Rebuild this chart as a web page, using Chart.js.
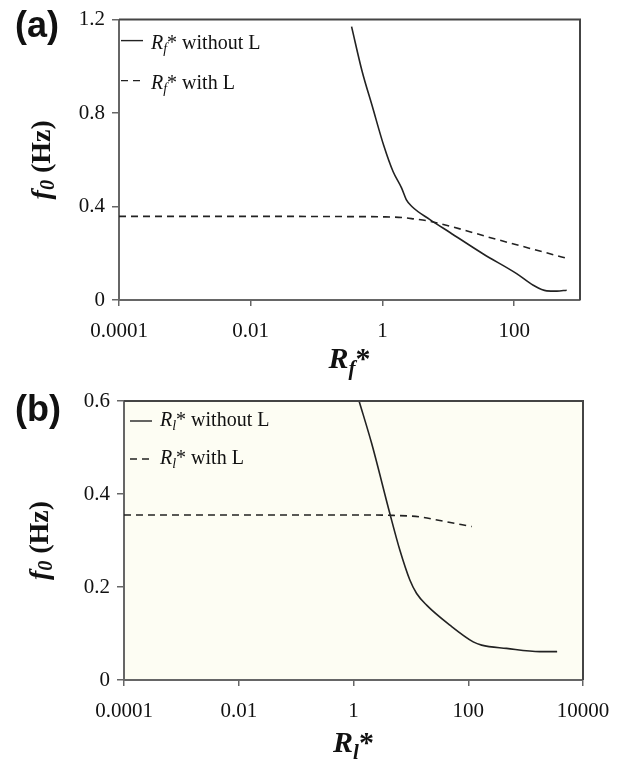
<!DOCTYPE html>
<html>
<head>
<meta charset="utf-8">
<script src="https://cdn.jsdelivr.net/npm/chart.js@4.4.1/dist/chart.umd.min.js"></script>
<style>
  body { margin: 0; background: #fff; }
  #wrap { position: relative; width: 626px; height: 762px; }
  canvas { position: absolute; left: 0; }
  #chartA { top: 0; }
  #chartB { top: 380px; }
</style>
</head>
<body>
<div id="wrap">
  <canvas id="chartA" width="626" height="380"></canvas>
  <canvas id="chartB" width="626" height="382"></canvas>
</div>
<script>
// (a) f0 against Rf*
const rfTicks = [0.0001, 0.01, 1, 100];
const rfNoLX = [0.34, 0.49, 0.70, 1.05, 1.45, 1.95, 2.3, 2.8, 5.2, 10.6, 34, 109, 195, 312, 446, 628];
const rfNoLY = [1.17, 0.98, 0.83, 0.66, 0.55, 0.48, 0.43, 0.40, 0.345, 0.289, 0.197, 0.113, 0.063, 0.039, 0.038, 0.042];
const rfLX = [0.0001, 0.01, 0.3, 1, 2, 3, 5, 55, 600];
const rfLY = [0.358, 0.358, 0.357, 0.356, 0.353, 0.347, 0.338, 0.259, 0.18];

// (b) f0 against Rl*
const rlTicks = [0.0001, 0.01, 1, 100, 10000];
const rlNoLX = [1.25, 2.07, 4.3, 6.4, 9.6, 12.6, 18.8, 47.8, 122, 171, 465, 1770, 3540];
const rlNoLY = [0.6, 0.509, 0.358, 0.28, 0.215, 0.186, 0.161, 0.118, 0.082, 0.075, 0.068, 0.061, 0.061];
const rlLX = [0.0001, 0.01, 1, 5, 14, 32, 115];
const rlLY = [0.355, 0.355, 0.355, 0.354, 0.351, 0.343, 0.330];

const seriesNames = ['without L', 'with L'];
const serif = "'Liberation Serif', 'Times New Roman', serif";
const ink = '#111';

function series(xs, ys, name, dash) {
  return {
    label: name,
    data: xs.map((x, i) => ({ x: x, y: ys[i] })),
    borderColor: '#222',
    borderWidth: 1.6,
    borderDash: dash,
    pointRadius: 0,
    cubicInterpolationMode: 'monotone',
    fill: false
  };
}

// draws a run of differently styled pieces; align 'center' or 'left'
function drawParts(ctx, parts, x, y, align) {
  let w = 0;
  parts.forEach(p => { ctx.font = p.font; w += ctx.measureText(p.text).width; });
  let cx = align === 'center' ? x - w / 2 : x;
  parts.forEach(p => {
    ctx.font = p.font;
    ctx.fillText(p.text, cx, y + (p.dy || 0));
    cx += ctx.measureText(p.text).width;
  });
}

const figureText = {
  id: 'figureText',
  beforeDraw(chart, args, o) {
    const a = chart.chartArea, ctx = chart.ctx;
    if (o.plotBg) {
      ctx.save();
      ctx.fillStyle = o.plotBg;
      ctx.fillRect(a.left, a.top, a.right - a.left, a.bottom - a.top);
      ctx.restore();
    }
  },
  afterDraw(chart, args, o) {
    const a = chart.chartArea, ctx = chart.ctx;
    ctx.save();
    // top and right frame
    ctx.strokeStyle = '#444';
    ctx.lineWidth = 2;
    ctx.beginPath();
    ctx.moveTo(a.left, a.top);
    ctx.lineTo(a.right, a.top);
    ctx.lineTo(a.right, a.bottom);
    ctx.stroke();

    ctx.fillStyle = ink;
    ctx.textBaseline = 'alphabetic';

    // panel letter
    ctx.font = "bold 36px 'Liberation Sans', Arial, sans-serif";
    ctx.fillText(o.panel, 15, o.panelY);

    // x axis title
    drawParts(ctx, [
      { text: 'R', font: 'italic bold 30px ' + serif },
      { text: o.sub, font: 'italic bold 21px ' + serif, dy: 7 },
      { text: '*', font: 'bold 30px ' + serif }
    ], (a.left + a.right) / 2, a.bottom + o.xTitleGap, 'center');

    // y axis title, rotated
    ctx.save();
    ctx.translate(o.yTitleX, (a.top + a.bottom) / 2);
    ctx.rotate(-Math.PI / 2);
    ctx.textBaseline = 'middle';
    drawParts(ctx, [
      { text: 'f', font: 'italic bold 28px ' + serif },
      { text: '0', font: 'italic bold 20px ' + serif, dy: 6 },
      { text: ' (Hz)', font: 'bold 28px ' + serif }
    ], 0, 0, 'center');
    ctx.restore();

    // legend
    chart.data.datasets.forEach((ds, i) => {
      const sy = a.top + o.legendTop + i * o.legendGap;
      const sx = a.left + o.sampleLeft;
      ctx.save();
      ctx.strokeStyle = ds.borderColor;
      ctx.lineWidth = 1.4;
      ctx.setLineDash(ds.borderDash || []);
      ctx.beginPath();
      ctx.moveTo(sx, sy);
      ctx.lineTo(sx + 22, sy);
      ctx.stroke();
      ctx.restore();
      drawParts(ctx, [
        { text: 'R', font: 'italic 20px ' + serif },
        { text: o.sub, font: 'italic 14px ' + serif, dy: 4 },
        { text: '* ' + seriesNames[i], font: '20px ' + serif }
      ], sx + 30, sy + o.legendText, 'left');
    });
    ctx.restore();
  }
};

function makeChart(id, cfg) {
  const tickFont = { family: serif, size: 21 };
  new Chart(document.getElementById(id), {
    type: 'line',
    data: {
      datasets: [
        series(cfg.noLX, cfg.noLY, 'R' + cfg.sub + '* ' + seriesNames[0], []),
        series(cfg.lX, cfg.lY, 'R' + cfg.sub + '* ' + seriesNames[1], [7, 5])
      ]
    },
    options: {
      responsive: false,
      animation: false,
      layout: { padding: cfg.padding },
      scales: {
        x: {
          type: 'logarithmic',
          min: cfg.xMin,
          max: cfg.xMax,
          afterBuildTicks: s => { s.ticks = cfg.ticks.map(v => ({ value: v })); },
          afterFit: s => { s.height = cfg.xHeight; },
          ticks: { callback: v => String(v), font: tickFont, color: ink, padding: 13, maxRotation: 0, autoSkip: false },
          grid: { drawOnChartArea: false, drawTicks: true, tickLength: 6, color: '#666', lineWidth: 1.5 },
          border: { color: '#666', width: 2 }
        },
        y: {
          min: 0,
          max: cfg.yMax,
          afterFit: s => { s.width = cfg.yWidth; },
          ticks: { stepSize: cfg.yStep, font: tickFont, color: ink, padding: 7 },
          grid: { drawOnChartArea: false, drawTicks: true, tickLength: 7, color: '#666', lineWidth: 1.5 },
          border: { color: '#666', width: 2 }
        }
      },
      plugins: {
        legend: { display: false },
        tooltip: { enabled: false },
        figureText: cfg.text
      }
    },
    plugins: [figureText]
  });
}

makeChart('chartA', {
  noLX: rfNoLX, noLY: rfNoLY, lX: rfLX, lY: rfLY, sub: 'f',
  ticks: rfTicks, xMin: 0.0001, xMax: 1000, yMax: 1.2, yStep: 0.4,
  padding: { left: 0, top: 16, right: 46, bottom: 0 },
  xHeight: 80, yWidth: 119,
  text: { panel: '(a)', panelY: 37, sub: 'f', xTitleGap: 68, yTitleX: 43,
          legendTop: 21, legendGap: 40, sampleLeft: 2, legendText: 8 }
});

makeChart('chartB', {
  noLX: rlNoLX, noLY: rlNoLY, lX: rlLX, lY: rlLY, sub: 'l',
  ticks: rlTicks, xMin: 0.0001, xMax: 10000, yMax: 0.6, yStep: 0.2,
  padding: { left: 0, top: 21, right: 43, bottom: 0 },
  xHeight: 82, yWidth: 124,
  text: { panel: '(b)', panelY: 41, sub: 'l', xTitleGap: 72, yTitleX: 41,
          legendTop: 20, legendGap: 38, sampleLeft: 6, legendText: 5, plotBg: '#fdfdf3' }
});
</script>
</body>
</html>
